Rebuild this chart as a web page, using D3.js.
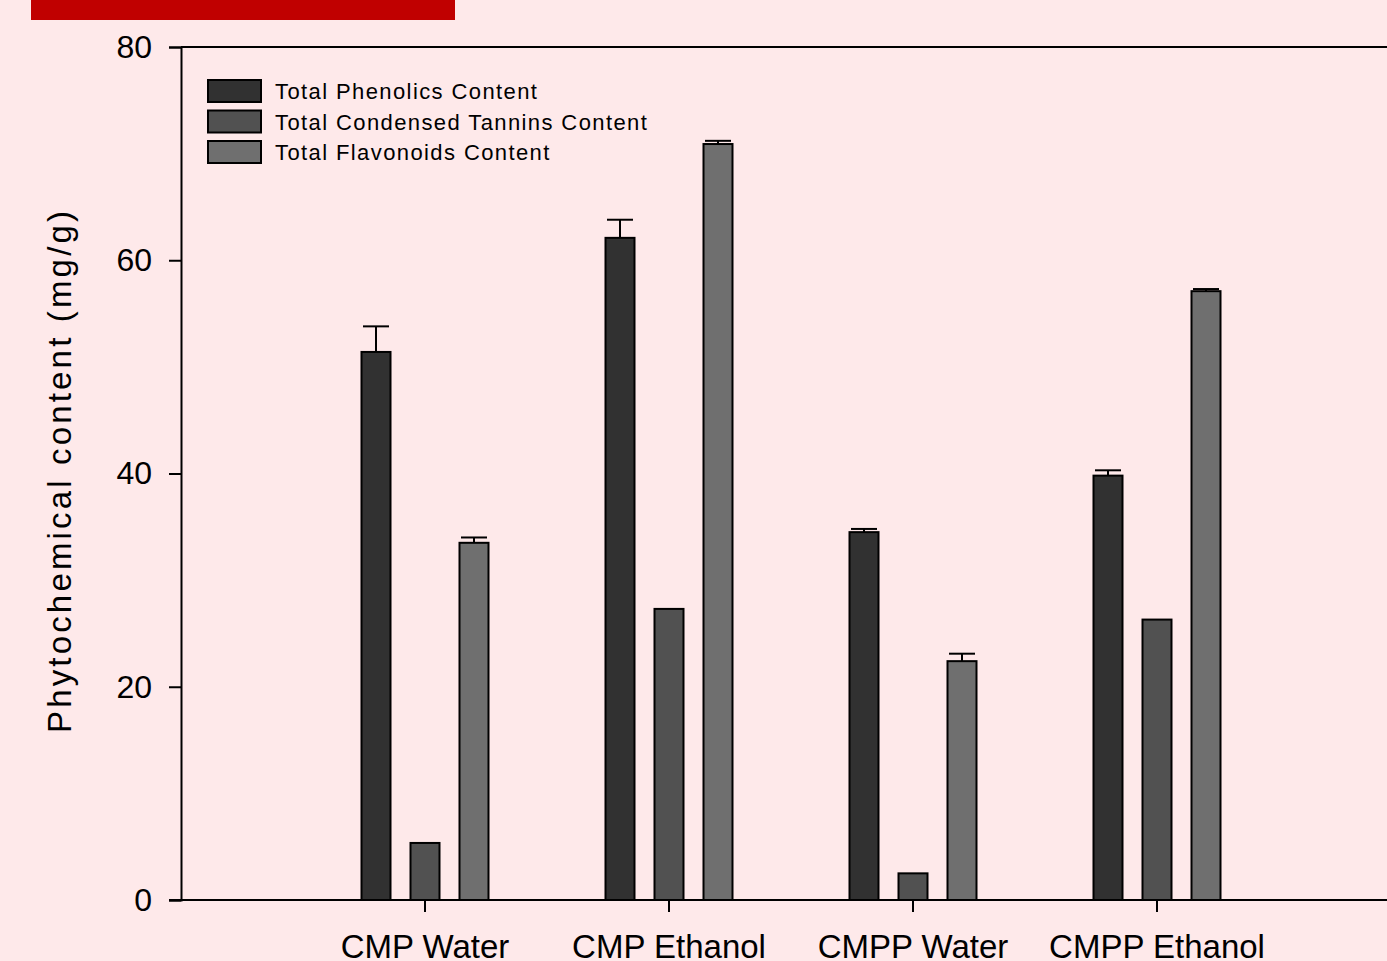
<!DOCTYPE html>
<html>
<head>
<meta charset="utf-8">
<script src="https://cdn.jsdelivr.net/npm/d3@7"></script>
<style>
  body { margin: 0; background: #fee9ea; }
  svg { display: block; font-family: Arial, "Liberation Sans", sans-serif; }
</style>
</head>
<body>
<svg id="chart" width="1387" height="961"></svg>
<script>
let categories = ["CMP Water", "CMP Ethanol", "CMPP Water", "CMPP Ethanol"];
let series = ["Total Phenolics Content", "Total Condensed Tannins Content", "Total Flavonoids Content"];
let colors = ["#313131", "#515151", "#6f6f6f"];
let yTicks = [0, 20, 40, 60, 80];

// mean values per category, one array per series
let phenolics = [51.4, 62.1, 34.5, 39.8];
let tannins = [5.35, 27.3, 2.5, 26.3];
let flavonoids = [33.5, 70.9, 22.4, 57.1];
// upper error (sd) per category, 0 = no visible bar
let phenolicsErr = [2.4, 1.7, 0.3, 0.5];
let tanninsErr = [0, 0, 0, 0];
let flavonoidsErr = [0.5, 0.3, 0.7, 0.2];

let width = 1387,
    height = 961;

function visualize() {
  let scales = make_scales();
  let svg = d3.select("#chart");
  draw_frame(svg, scales);
  draw_bars(svg, scales);
  draw_legend(svg);
}

function make_scales() {
  return {
    x: d3.scaleBand()
      .domain(categories)
      .range([303, 1279]),
    sub: d3.scalePoint()
      .domain(series)
      .range([-49, 49]),
    y: d3.scaleLinear()
      .domain([0, 80])
      .range([900, 47])
  }
}

function draw_frame(svg, scales) {
  // red banner top-left
  svg.append("rect")
    .attr("x", 31).attr("y", 0)
    .attr("width", 424).attr("height", 20)
    .attr("fill", "#c00000");

  // top border, runs off the page
  svg.append("line")
    .attr("x1", 181).attr("x2", 1401)
    .attr("y1", scales.y(80)).attr("y2", scales.y(80))
    .attr("stroke", "#000").attr("stroke-width", 2);

  let yAxis = d3.axisLeft(scales.y)
    .tickValues(yTicks)
    .tickSize(12)
    .tickPadding(17);
  let gy = svg.append("g")
    .attr("transform", "translate(181,0)")
    .call(yAxis);
  gy.select(".domain").attr("stroke-width", 2);
  gy.selectAll(".tick line").attr("stroke-width", 2);
  gy.selectAll(".tick text")
    .attr("font-size", 32)
    .attr("font-family", "Arial, 'Liberation Sans', sans-serif")
    .attr("fill", "#000");

  let xAxis = d3.axisBottom(scales.x)
    .tickSize(12)
    .tickPadding(24)
    .tickSizeOuter(0);
  let gx = svg.append("g")
    .attr("transform", "translate(0,900)")
    .call(xAxis);
  gx.select(".domain").remove();
  gx.append("line")
    .attr("x1", 169).attr("x2", 1401)
    .attr("stroke", "#000").attr("stroke-width", 2);
  gx.selectAll(".tick line").attr("stroke-width", 2);
  gx.selectAll(".tick text")
    .attr("font-size", 33)
    .attr("font-family", "Arial, 'Liberation Sans', sans-serif")
    .attr("fill", "#000")
    .attr("dy", null)
    .attr("y", 58);

  svg.append("text")
    .attr("transform", "translate(71,472) rotate(-90)")
    .attr("text-anchor", "middle")
    .attr("font-size", 33)
    .attr("textLength", 522)
    .attr("lengthAdjust", "spacing")
    .text("Phytochemical content (mg/g)");
}

function draw_bars(svg, scales) {
  let values = [phenolics, tannins, flavonoids];
  let errs = [phenolicsErr, tanninsErr, flavonoidsErr];
  let rows = [];
  series.forEach((s, si) => {
    categories.forEach((c, ci) => {
      rows.push({ s: s, si: si, c: c, v: values[si][ci], e: errs[si][ci] });
    });
  });
  let bw = 29,
      cap = 13;
  let cx = d => scales.x(d.c) + scales.x.bandwidth() / 2 + scales.sub(d.s);

  let err = svg.append("g")
    .attr("stroke", "#000")
    .attr("stroke-width", 2)
    .selectAll("g")
    .data(rows.filter(d => d.e > 0)).enter()
    .append("g");
  err.append("line")
    .attr("x1", cx).attr("x2", cx)
    .attr("y1", d => scales.y(d.v))
    .attr("y2", d => scales.y(d.v + d.e));
  err.append("line")
    .attr("x1", d => cx(d) - cap).attr("x2", d => cx(d) + cap)
    .attr("y1", d => scales.y(d.v + d.e))
    .attr("y2", d => scales.y(d.v + d.e));

  svg.append("g")
    .selectAll("rect")
    .data(rows).enter()
    .append("rect")
    .attr("x", d => cx(d) - bw / 2)
    .attr("y", d => scales.y(d.v))
    .attr("width", bw)
    .attr("height", d => scales.y(0) - scales.y(d.v))
    .attr("fill", d => colors[d.si])
    .attr("stroke", "#000")
    .attr("stroke-width", 2);
}

function draw_legend(svg) {
  let g = svg.append("g")
    .selectAll("g")
    .data(series).enter()
    .append("g")
    .attr("transform", (d, i) => `translate(208,${80 + i * 30.5})`);
  g.append("rect")
    .attr("width", 53).attr("height", 22)
    .attr("fill", (d, i) => colors[i])
    .attr("stroke", "#000")
    .attr("stroke-width", 2);
  g.append("text")
    .attr("x", 67).attr("y", 19)
    .attr("font-size", 22)
    .attr("letter-spacing", 1.4)
    .text(d => d);
}

visualize();
</script>
</body>
</html>
